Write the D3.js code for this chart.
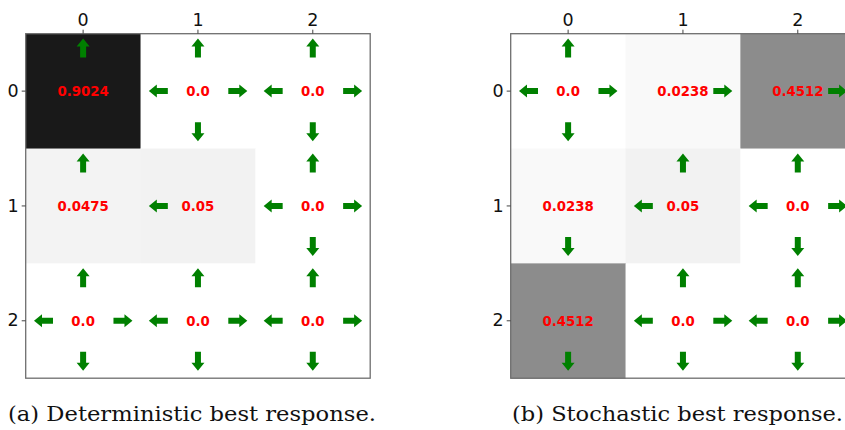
<!DOCTYPE html>
<html><head><meta charset="utf-8">
<script src="https://cdn.jsdelivr.net/npm/d3@7"></script>
<style>html,body{margin:0;padding:0;background:#fff;overflow:hidden}</style>
</head><body>
<svg id="c" width="845" height="430"></svg>
<script>
const rows = [0, 1, 2];
const cols = [0, 1, 2];
const tickLabels = ["0", "1", "2"];
// values per cell [row][col]
const valuesA = [[0.9024, 0.0, 0.0], [0.0475, 0.05, 0.0], [0.0, 0.0, 0.0]];
const valuesB = [[0.0, 0.0238, 0.4512], [0.0238, 0.05, 0.0], [0.4512, 0.0, 0.0]];
const labelsA = [["0.9024", "0.0", "0.0"], ["0.0475", "0.05", "0.0"], ["0.0", "0.0", "0.0"]];
const labelsB = [["0.0", "0.0238", "0.4512"], ["0.0238", "0.05", "0.0"], ["0.4512", "0.0", "0.0"]];
// arrow directions per cell: U,D,L,R
const arrowsA = [["U", "ULRD", "ULRD"], ["U", "L", "ULRD"], ["ULRD", "ULRD", "ULRD"]];
const arrowsB = [["ULRD", "R", "R"], ["D", "UL", "ULRD"], ["D", "ULRD", "ULRD"]];
const captions = ["(a) Deterministic best response.", "(b) Stochastic best response."];

const svg = d3.select("#c");
const color = d3.scaleLinear().domain([0, 1]).range(["#ffffff", "#000000"]);

function panel(x0, values, labels, arrows, caption, capX, capW) {
  const top = 33.7, size = 344.5;
  const x = d3.scaleBand().domain(cols).range([x0, x0 + size]);
  const y = d3.scaleBand().domain(rows).range([top, top + size]);
  const bw = x.bandwidth();
  const g = svg.append("g");
  const cells = [];
  rows.forEach(r => cols.forEach(c => cells.push({r, c, v: values[r][c], t: labels[r][c], a: arrows[r][c]})));
  g.selectAll("rect.cell").data(cells).join("rect").attr("class", "cell")
    .attr("x", d => x(d.c)).attr("y", d => y(d.r))
    .attr("width", bw + 0.5).attr("height", bw + 0.5)
    .attr("fill", d => color(d.v));
  g.selectAll("text.val").data(cells).join("text").attr("class", "val")
    .attr("x", d => x(d.c) + bw / 2).attr("y", d => y(d.r) + bw / 2 + 4.8)
    .attr("text-anchor", "middle")
    .attr("font-family", "DejaVu Sans").attr("font-weight", "bold").attr("font-size", 13.3)
    .attr("fill", "#ff0000").text(d => d.t);
  const off = {U: [0, -0.375, -90], D: [0, 0.353, 90], L: [-0.345, 0, 180], R: [0.347, 0, 0]};
  const arr = [];
  cells.forEach(d => d.a.split("").forEach(k => arr.push({d, k})));
  const shape = "M-9.5,-3L1.5,-3L1.5,-6.5L9.5,0L1.5,6.5L1.5,3L-9.5,3Z";
  g.selectAll("path.arrow").data(arr).join("path").attr("class", "arrow")
    .attr("d", shape).attr("fill", "#008000")
    .attr("transform", o => {
      const cx = x(o.d.c) + bw / 2 + off[o.k][0] * bw;
      const cy = y(o.d.r) + bw / 2 + off[o.k][1] * bw;
      return `translate(${cx},${cy}) rotate(${off[o.k][2]})`;
    });
  g.append("rect").attr("x", x0).attr("y", top).attr("width", size).attr("height", size)
    .attr("fill", "none").attr("stroke", "#6e6e6e").attr("stroke-width", 1.3);
  const ax = g.append("g").attr("transform", `translate(0,${top})`)
    .call(d3.axisTop(x).tickSize(4).tickPadding(4).tickFormat((d, i) => tickLabels[i]));
  const ay = g.append("g").attr("transform", `translate(${x0},0)`)
    .call(d3.axisLeft(y).tickSize(4).tickPadding(3).tickFormat((d, i) => tickLabels[i]));
  [ax, ay].forEach(a => {
    a.select(".domain").remove();
    a.selectAll("line").attr("stroke", "#444");
    a.selectAll("text").attr("font-family", "DejaVu Sans").attr("font-size", 17.5).attr("fill", "#111");
  });
  svg.append("text").attr("x", capX).attr("y", 421)
    .attr("font-family", "DejaVu Serif").attr("font-size", 19.5)
    .attr("textLength", capW).attr("lengthAdjust", "spacingAndGlyphs")
    .attr("fill", "#111").text(caption);
}
panel(25.7, valuesA, labelsA, arrowsA, captions[0], 8, 368);
panel(510.7, valuesB, labelsB, arrowsB, captions[1], 512, 331);
</script>
</body></html>
